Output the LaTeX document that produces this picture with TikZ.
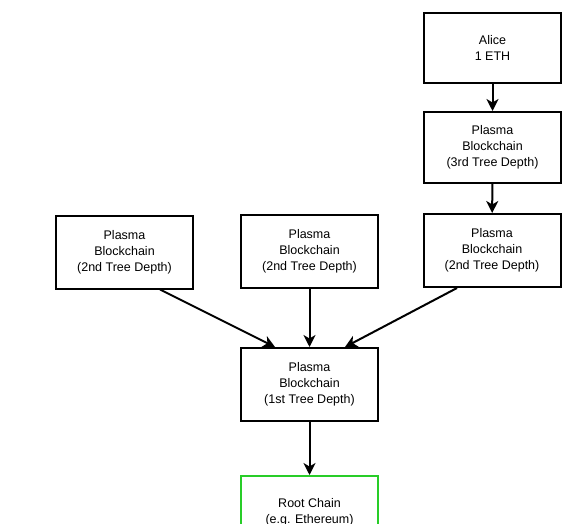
\documentclass[tikz,border=0pt]{standalone}
\usepackage{fontspec}
\setmainfont{Liberation Sans}
\usetikzlibrary{arrows.meta,calc}
\definecolor{rootgreen}{RGB}{40,205,40}
\begin{document}
\begin{tikzpicture}[x=1pt,y=-1pt,
  box/.style={draw=black,line width=2pt,fill=white,minimum width=137pt,minimum height=72pt,
    align=center,inner sep=0pt,font=\fontsize{12.5}{16}\selectfont},
  conn/.style={line width=2pt,-{Stealth[length=12pt,width=12pt,inset=3.5pt]}}]
\useasboundingbox (0,0) rectangle (575,524);
\begin{scope}
\clip (0,0) rectangle (575,524);
\node[box,minimum height=70pt] (alice) at (492.5,48) {Alice\\1 ETH};
\node[box,minimum height=71pt] (third) at (492.5,147.5) {Plasma\\Blockchain\\(3rd Tree Depth)};
\node[box,minimum height=73pt] (secR) at (492,250.5) {Plasma\\Blockchain\\(2nd Tree Depth)};
\node[box,minimum height=73pt] (secM) at (309.5,251.5) {Plasma\\Blockchain\\(2nd Tree Depth)};
\node[box,minimum height=73pt] (secL) at (124.5,252) {Plasma\\Blockchain\\(2nd Tree Depth)};
\node[box,minimum height=73pt] (first) at (309.5,384.5) {Plasma\\Blockchain\\(1st Tree Depth)};
\node[box,draw=rootgreen,minimum height=73pt] (root) at (309.5,512.5) {Root Chain\\(e.g. Ethereum)};
\draw[conn] (alice) -- (third);
\draw[conn] (third) -- (secR);
\draw[conn] (secM) -- (first);
\draw[conn] ($(secL.south)+(35.5,0)$) -- ($(first.north)+(-34.5,0)$);
\draw[conn] ($(secR.south)+(-35,0)$) -- ($(first.north)+(35.5,0)$);
\draw[conn] (first) -- (root);
\end{scope}
\end{tikzpicture}
\end{document}
